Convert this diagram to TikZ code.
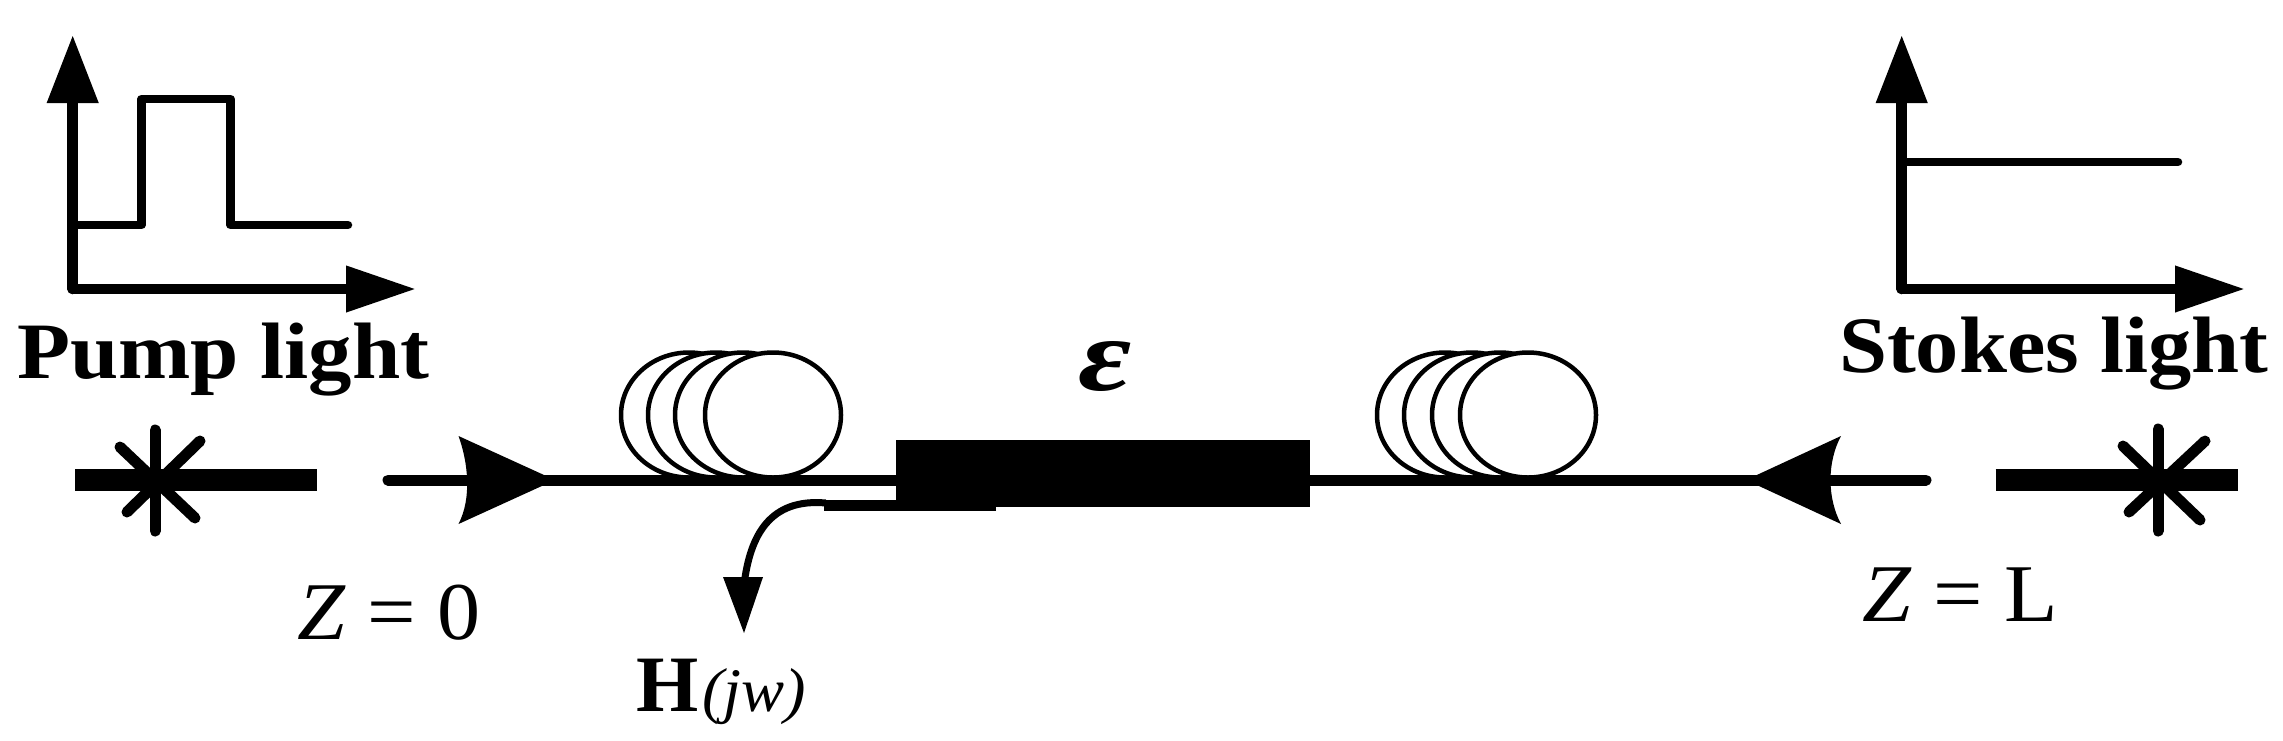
\documentclass[tikz,border=0pt]{standalone}
\usepackage{fontspec}
\setmainfont{Liberation Serif}
\usetikzlibrary{arrows.meta,shapes.geometric}
\tikzset{
  x=1pt,y=-1pt,
  axisline/.style={line width=10.5pt,-{Triangle[length=68pt,width=49pt]},line cap=round},
  signal/.style={line width=8.5pt,line join=round,line cap=round},
  fibre/.style={line width=11pt},
  rayline/.style={line width=11pt,line cap=round},
  barline/.style={line width=22pt},
  blockfill/.style={fill=black,draw=none},
  coil/.style={ellipse,draw,line width=4.5pt,fill=white,minimum width=136pt,minimum height=125pt,inner sep=0pt},
  big/.style={inner sep=0pt,outer sep=0pt,font=\fontsize{80}{90}\selectfont\bfseries},
  plain/.style={inner sep=0pt,outer sep=0pt,font=\fontsize{82}{90}\selectfont},
  head/.style={fill=black,draw=none}
}
\begin{document}
\begin{tikzpicture}
\useasboundingbox (0,0) rectangle (2283,740);
% left axes
\coordinate (LO) at (72.7,289);
\coordinate (LY) at (72.7,35);
\coordinate (LX) at (416,289);
\draw[axisline] (LO) -- (LY);
\draw[axisline,-{Triangle[length=70pt,width=44pt]}] (LO) -- (LX);
\coordinate (P0) at (72.7,225); \coordinate (P1) at (141.6,225); \coordinate (P2) at (141.6,99);
\coordinate (P3) at (230.4,99); \coordinate (P4) at (230.4,225); \coordinate (P5) at (348,225);
\draw[signal] (P0) -- (P1) -- (P2) -- (P3) -- (P4) -- (P5);
\node[big,anchor=base west] (pump) at (17,378) {\scalebox{1.085}[1]{Pump light}};
% right axes
\coordinate (RO) at (1901.7,289);
\coordinate (RY) at (1901.7,35);
\coordinate (RX) at (2245,289);
\draw[axisline] (RO) -- (RY);
\draw[axisline,-{Triangle[length=70pt,width=44pt]}] (RO) -- (RX);
\coordinate (S0) at (1901.7,162); \coordinate (S1) at (2178,162);
\draw[signal] (S0) -- (S1);
\node[big,anchor=base west] (stokes) at (1839,372.5) {\scalebox{1.08}[1]{Stokes light}};
% left laser
\coordinate (LB1) at (75,480); \coordinate (LB2) at (317,480);
\draw[barline] (LB1) -- (LB2);
\coordinate (La) at (155,430); \coordinate (Lb) at (155,531);
\coordinate (Lc) at (120,447); \coordinate (Ld) at (195,518);
\coordinate (Le) at (200,441); \coordinate (Lf) at (127,512);
\draw[rayline] (La) -- (Lb); \draw[rayline] (Lc) -- (Ld); \draw[rayline] (Le) -- (Lf);
% right laser
\coordinate (RB1) at (1995.5,480); \coordinate (RB2) at (2238,480);
\draw[barline] (RB1) -- (RB2);
\coordinate (Ra) at (2158,429); \coordinate (Rb) at (2158,531);
\coordinate (Rc) at (2123,446); \coordinate (Rd) at (2200,520);
\coordinate (Re) at (2205,441); \coordinate (Rf) at (2129,512);
\draw[rayline] (Ra) -- (Rb); \draw[rayline] (Rc) -- (Rd); \draw[rayline] (Re) -- (Rf);
% fibre
\coordinate (FL) at (388,480); \coordinate (FR) at (1926,480);
\draw[fibre,line cap=round] (FL) -- (FR);
% coils
\foreach \n/\cx in {a/689,b/716,c/743,d/773}{\node[coil] (cl\n) at (\cx,415) {};}
\foreach \n/\cx in {a/1445,b/1472,c/1500,d/1528}{\node[coil] (cr\n) at (\cx,415) {};}
% arrowheads on the fibre
\fill[head] (555,480) -- (458.5,436) .. controls (468,462) and (472,498) .. (458.5,524) -- cycle;
\fill[head] (1746,480) -- (1841,436) .. controls (1827,462) and (1827,498) .. (1841,524) -- cycle;
% block
\node[blockfill,minimum width=413.6pt,minimum height=67pt,inner sep=0pt,anchor=north west] (block) at (896,440) {};
\coordinate (T1) at (996,505.3); \coordinate (T2) at (824,505.3);
\draw[line width=10.5pt] (T1) -- (T2);
\coordinate (T3) at (744,585);
\draw[line width=7pt] (826,503) .. controls (770,498) and (750,535) .. (T3);
\coordinate (T4) at (744,633);
\fill[head] (723,577) -- (763,577) -- (T4) -- cycle;
% labels
\node[inner sep=0pt,font=\fontsize{104}{110}\selectfont\bfseries\itshape] (eps) at (1105,366) {\scalebox{1.25}[1]{ε}};
\node[inner sep=0pt,anchor=base west,font=\fontsize{80}{90}\selectfont\bfseries] (H) at (636,711) {H};
\node[inner sep=0pt,anchor=base west,font=\fontsize{62}{70}\selectfont\itshape] (jw) at (702,711) {\scalebox{1.04}[1]{(jw)}};
\node[plain,anchor=base west] (z0) at (297,639) {\scalebox{1.05}[1]{\textit{Z} = 0}};
\node[plain,anchor=base west] (zL) at (1862,621) {\scalebox{1.07}[1]{\textit{Z} = L}};
\end{tikzpicture}
\end{document}
